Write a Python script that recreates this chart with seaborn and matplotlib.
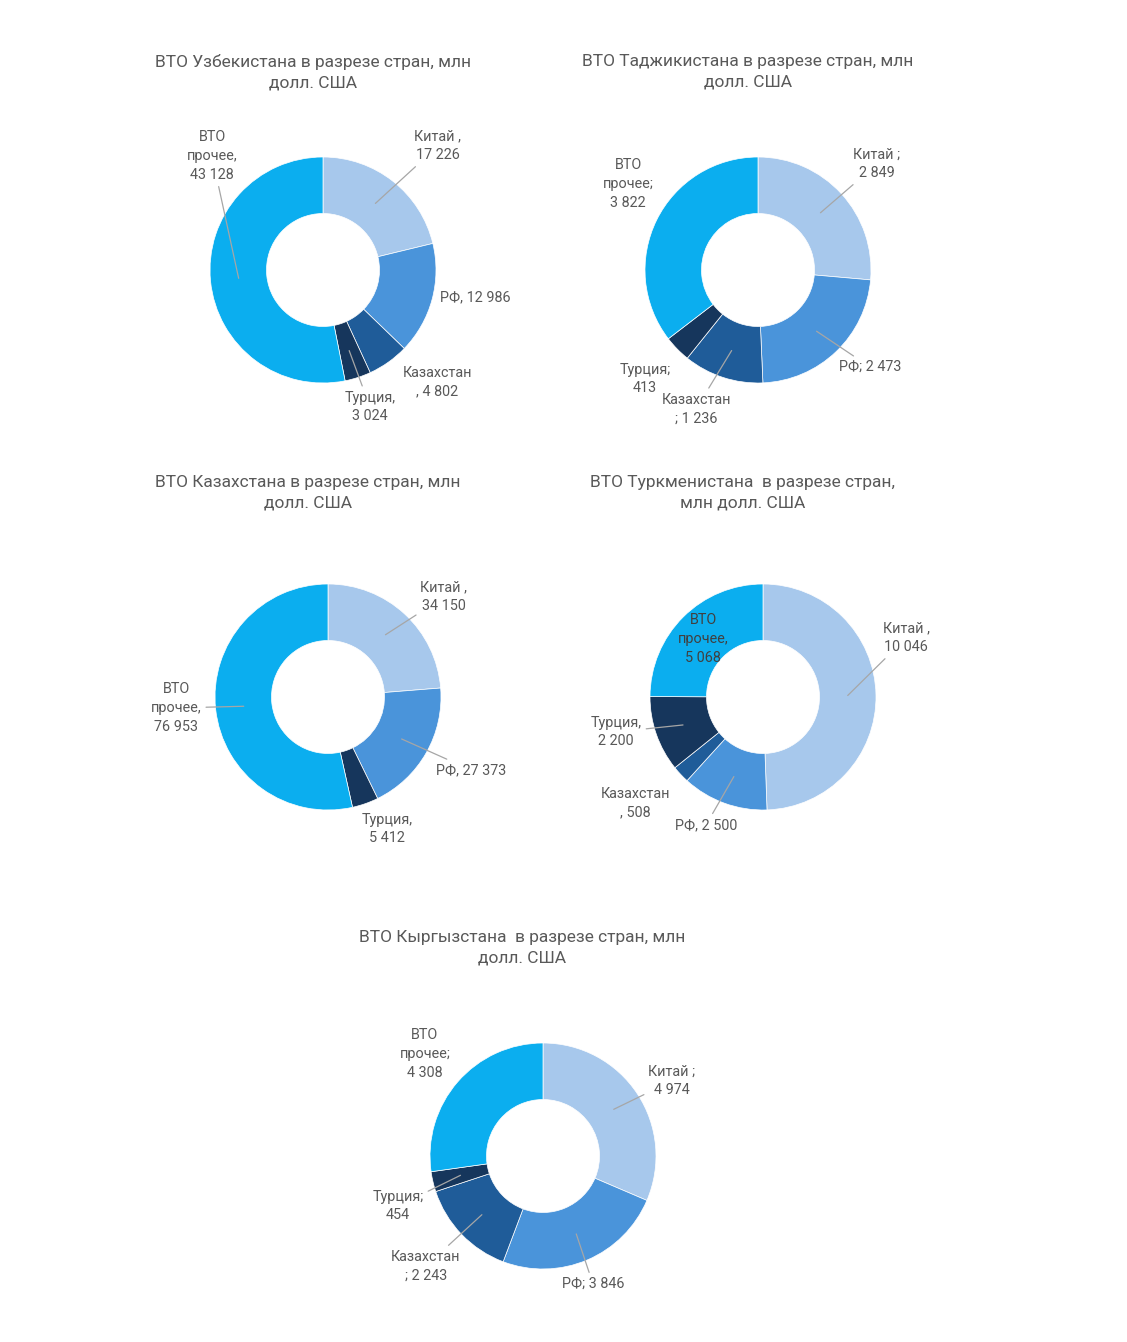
import numpy as np
import matplotlib
matplotlib.use("Agg")
import matplotlib.pyplot as plt
import seaborn as sns

sns.set_theme(style="white")
plt.rcParams["font.family"] = ["Roboto", "DejaVu Sans"]

# data
categories = ["Китай", "РФ", "Казахстан", "Турция", "ВТО прочее"]
uzb_values = [17226, 12986, 4802, 3024, 43128]
taj_values = [2849, 2473, 1236, 413, 3822]
kaz_values = [34150, 27373, 0, 5412, 76953]
tkm_values = [10046, 2500, 508, 2200, 5068]
kgz_values = [4974, 3846, 2243, 454, 4308]

titles = [
    "ВТО Узбекистана в разрезе стран, млн\nдолл. США",
    "ВТО Таджикистана в разрезе стран, млн\nдолл. США",
    "ВТО Казахстана в разрезе стран, млн\nдолл. США",
    "ВТО Туркменистана  в разрезе стран,\nмлн долл. США",
    "ВТО Кыргызстана  в разрезе стран, млн\nдолл. США",
]

label_fmt = [
    ["Китай ,\n{}", "РФ, {}", "Казахстан\n, {}", "Турция,\n{}", "ВТО\nпрочее,\n{}"],
    ["Китай ;\n{}", "РФ; {}", "Казахстан\n; {}", "Турция;\n{}", "ВТО\nпрочее;\n{}"],
    ["Китай ,\n{}", "РФ, {}", "", "Турция,\n{}", "ВТО\nпрочее,\n{}"],
    ["Китай ,\n{}", "РФ, {}", "Казахстан\n, {}", "Турция,\n{}", "ВТО\nпрочее,\n{}"],
    ["Китай ;\n{}", "РФ; {}", "Казахстан\n; {}", "Турция;\n{}", "ВТО\nпрочее;\n{}"],
]

colors = ["#A7C8EC", "#4A94DA", "#1F5C99", "#16365C", "#0BAEEF"]

# layout (pixels)
W, H = 1127, 1342
R = 113
centers = [(323, 270), (758, 270), (328, 697), (763, 697), (543, 1156)]
title_pos = [(313, 72), (748, 72), (308, 493), (743, 493), (522, 948)]
# label offsets from centre in px (x right, y up) and whether a leader line is drawn
label_off = [
    [(115, 124), (152, -27), (114, -112), (47, -137), (-111, 114)],
    [(119, 106), (112, -97), (-62, -139), (-113, -109), (-130, 86)],
    [(116, 100), (143, -73), None, (59, -132), (-152, -11)],
    [(143, 59), (-57, -128), (-128, -106), (-147, -35), (-60, 58)],
    [(129, 75), (50, -128), (-117, -110), (-145, -50), (-118, 102)],
]
leader = [
    [True, False, False, True, True],
    [True, True, True, False, False],
    [True, True, False, False, True],
    [True, True, False, True, False],
    [True, True, True, True, False],
]

fig = plt.figure(figsize=(W / 100, H / 100), dpi=100)
fig.patch.set_facecolor("white")

all_values = [uzb_values, taj_values, kaz_values, tkm_values, kgz_values]
for i, values in enumerate(all_values):
    cx, cy = centers[i]
    half = 2 * R
    ax = fig.add_axes([(cx - half) / W, 1 - (cy + half) / H, 2 * half / W, 2 * half / H])
    vals = np.array(values, dtype=float)
    keep = vals > 0
    wedges, _ = ax.pie(
        vals[keep],
        colors=[c for c, k in zip(colors, keep) if k],
        startangle=90,
        counterclock=False,
        radius=1,
        wedgeprops=dict(width=0.5, edgecolor="white", linewidth=0.5),
    )
    ax.set_xlim(-2, 2)
    ax.set_ylim(-2, 2)
    ax.set_aspect("equal")
    ax.axis("off")

    for w, j in zip(wedges, np.where(keep)[0]):
        off = label_off[i][j]
        if off is None:
            continue
        txt = label_fmt[i][j].format(f"{values[j]:,}".replace(",", " "))
        mid = np.deg2rad((w.theta1 + w.theta2) / 2)
        pt = (0.75 * np.cos(mid), 0.75 * np.sin(mid))
        tcol = "#404040" if (i == 3 and j == 4) else "#595959"
        lx, ly = off[0] / R, off[1] / R
        if leader[i][j]:
            ax.annotate(txt, xy=pt, xytext=(lx, ly), ha="center", va="center",
                        fontsize=10.4, color=tcol, linespacing=1.45,
                        annotation_clip=False,
                        arrowprops=dict(arrowstyle="-", color="#a6a6a6", lw=0.9,
                                        shrinkA=1, shrinkB=0))
        else:
            ax.text(lx, ly, txt, ha="center", va="center", fontsize=10.4,
                    color=tcol, linespacing=1.45)

    tx, ty = title_pos[i]
    fig.text(tx / W, 1 - ty / H, titles[i], ha="center", va="center",
             fontsize=12.5, color="#595959", linespacing=1.45)

fig.savefig("out.png", dpi=100, facecolor="white")
